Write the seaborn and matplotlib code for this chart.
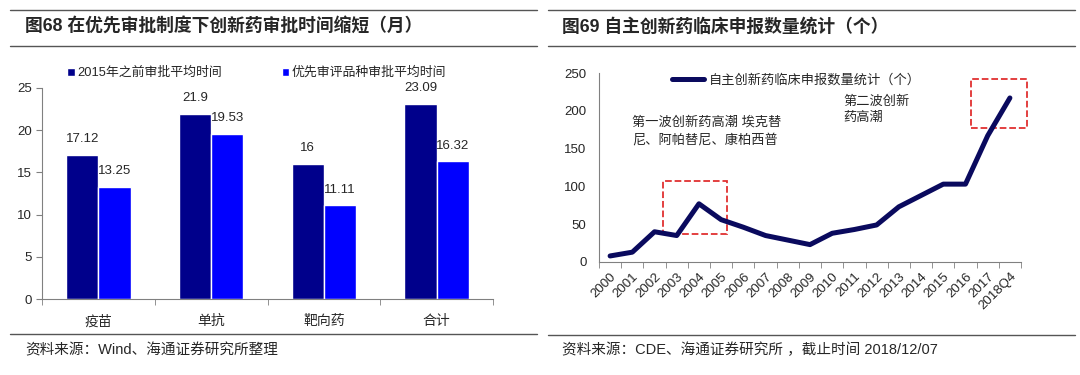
import numpy as np
import pandas as pd
import matplotlib
matplotlib.use("Agg")
import matplotlib.pyplot as plt
from matplotlib.lines import Line2D
from matplotlib.patches import Rectangle
import seaborn as sns

sns.set_style("white")
plt.rcParams['font.family'] = ['Liberation Sans', 'Noto Sans CJK SC', 'DejaVu Sans']
plt.rcParams['axes.unicode_minus'] = False

# 左图：审批时间（月）
categories = ['疫苗', '单抗', '靶向药', '合计']
series_names = ['2015年之前审批平均时间', '优先审评品种审批平均时间']
before_2015 = [17.12, 21.9, 16, 23.09]
priority = [13.25, 19.53, 11.11, 16.32]
bar_colors = ['#00008B', '#0000FF']

# 右图：自主创新药临床申报数量（个）
years = ['2000', '2001', '2002', '2003', '2004', '2005', '2006', '2007', '2008',
         '2009', '2010', '2011', '2012', '2013', '2014', '2015', '2016', '2017', '2018Q4']
counts = [8, 13, 40, 35, 77, 56, 46, 35, 29, 23, 38, 43, 49, 73, 88, 103, 103, 167, 217]
line_name = '自主创新药临床申报数量统计（个）'

W, H = 1080, 375
fig = plt.figure(figsize=(W / 100, H / 100), dpi=100)


def px_axes(left, top, right, bottom):
    return fig.add_axes([left / W, 1 - bottom / H, (right - left) / W, (bottom - top) / H])


def hline(x0, x1, y):
    fig.add_artist(Line2D([x0 / W, x1 / W], [1 - y / H, 1 - y / H], color='#555555', lw=1.0))


axis_grey = '#808080'

# ---------------- 左图 ----------------
df = pd.DataFrame({
    'cat': categories * 2,
    'series': [series_names[0]] * 4 + [series_names[1]] * 4,
    'value': before_2015 + priority,
})
ax1 = px_axes(42, 88, 493, 299)
sns.barplot(data=df, x='cat', y='value', hue='series', palette=bar_colors,
            width=0.57, gap=0, saturation=1, ax=ax1, legend=True)
for cont in ax1.containers:
    ax1.bar_label(cont, labels=[f'{v:g}' for v in cont.datavalues], padding=7, fontsize=9.5)
ax1.set_ylim(0, 25)
ax1.set_xlim(-0.5, 3.5)
ax1.set_yticks(range(0, 26, 5))
ax1.set_xlabel('')
ax1.set_ylabel('')
ax1.set_xticks(range(4))
ax1.set_xticklabels(categories, fontsize=10)
ax1.set_xticks(np.arange(-0.5, 4, 1), minor=True)
ax1.tick_params(axis='x', which='major', length=0, pad=11)
ax1.tick_params(axis='x', which='minor', length=4, color=axis_grey, direction='out', bottom=True)
ax1.tick_params(axis='y', length=4, color=axis_grey, direction='out', left=True, labelsize=9.5, pad=3)
for s in ['top', 'right']:
    ax1.spines[s].set_visible(False)
for s in ['left', 'bottom']:
    ax1.spines[s].set_color(axis_grey)
ax1.legend(loc='center left', bbox_to_anchor=(67 / W, 1 - 73 / H), bbox_transform=fig.transFigure,
           ncol=2, frameon=False, fontsize=9.3, handlelength=0.6, handleheight=0.6,
           handletextpad=0.2, columnspacing=4.6, borderaxespad=0, borderpad=0)

fig.text(25 / W, 1 - 27 / H, '图68 在优先审批制度下创新药审批时间缩短（月）',
         fontsize=12.8, fontweight='bold', va='center', ha='left')
fig.text(25 / W, 1 - 350 / H, '资料来源：Wind、海通证券研究所整理', fontsize=10.5, va='center', ha='left')
hline(10, 537, 10)
hline(10, 537, 46)
hline(10, 537, 334)

# ---------------- 右图 ----------------
ax2 = px_axes(599, 73, 1021, 262)
x_idx = np.arange(len(years))
sns.lineplot(x=x_idx, y=counts, color='#0A0A5E', lw=3.6, ax=ax2,
             solid_joinstyle='round', solid_capstyle='round', label=line_name)
ax2.set_xlim(-0.5, len(years) - 0.5)
ax2.set_ylim(0, 250)
ax2.set_yticks(range(0, 251, 50))
ax2.set_xticks(x_idx)
ax2.set_xticklabels(years, rotation=45, ha='right', rotation_mode='anchor', fontsize=9.5)
ax2.set_xticks(np.arange(-0.5, len(years), 1), minor=True)
ax2.tick_params(axis='x', which='major', length=0, pad=6)
ax2.tick_params(axis='x', which='minor', length=4, color=axis_grey, direction='out', bottom=True)
ax2.tick_params(axis='y', length=0, labelsize=9.5, pad=9)
for s in ['top', 'right']:
    ax2.spines[s].set_visible(False)
for s in ['left', 'bottom']:
    ax2.spines[s].set_color(axis_grey)
ax2.legend(loc='center left', bbox_to_anchor=(672 / W, 1 - 80 / H), bbox_transform=fig.transFigure,
           frameon=False, fontsize=9.5, handlelength=2.4, handletextpad=0.4,
           borderaxespad=0, borderpad=0)

# 红色虚线框
ax2.add_patch(Rectangle((2.38, 37), 5.27 - 2.38, 107 - 37, fill=False,
                        edgecolor='#E03030', ls='--', lw=1.3, clip_on=False))
ax2.add_patch(Rectangle((16.26, 177), 18.78 - 16.26, 242 - 177, fill=False,
                        edgecolor='#E03030', ls='--', lw=1.3, clip_on=False))
ax2.text(0.99, 173, '第一波创新药高潮 埃克替\n尼、阿帕替尼、康柏西普', fontsize=9.5,
         va='center', ha='left', linespacing=1.5)
ax2.text(10.5, 201, '第二波创新\n药高潮', fontsize=9.5, va='center', ha='left', linespacing=1.5)

fig.text(562 / W, 1 - 27 / H, '图69 自主创新药临床申报数量统计（个）',
         fontsize=12.8, fontweight='bold', va='center', ha='left')
fig.text(562 / W, 1 - 350 / H, '资料来源：CDE、海通证券研究所 ，截止时间 2018/12/07',
         fontsize=10.5, va='center', ha='left')
hline(548, 1075, 10)
hline(548, 1075, 46)
hline(548, 1075, 335)

fig.savefig('out.png', dpi=100)
